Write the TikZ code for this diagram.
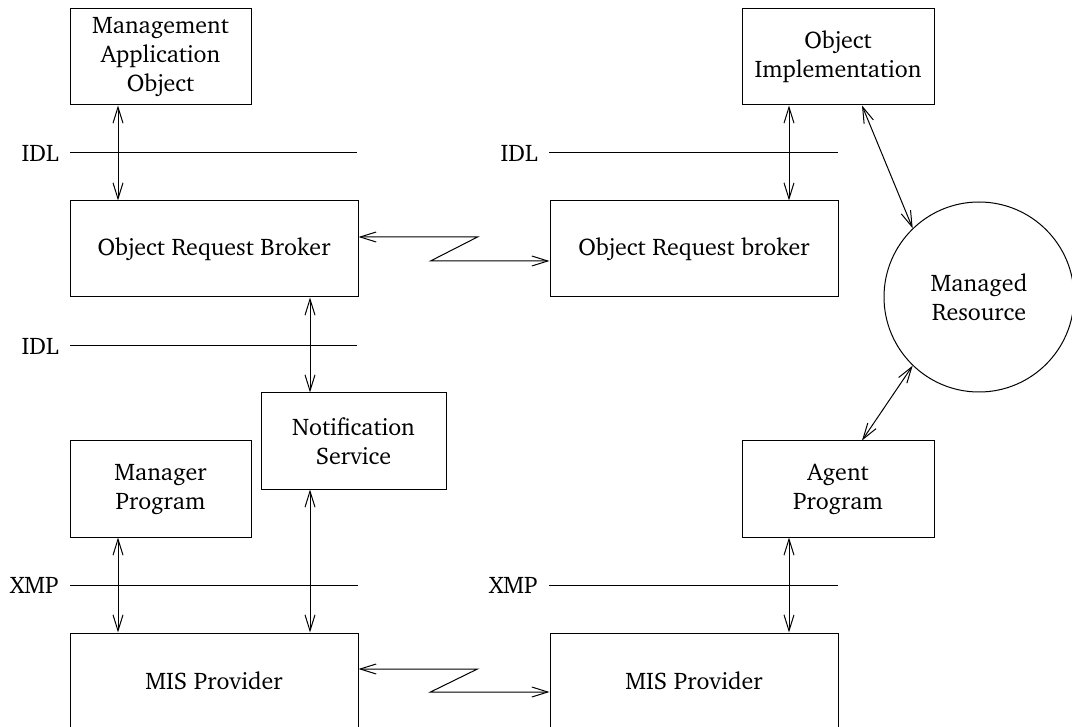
\documentclass[tikz,border=0pt]{standalone}
\usepackage[T1]{fontenc}
\usepackage{charter}
\usetikzlibrary{arrows.meta}
\tikzset{
  box/.style={shape=rectangle,draw,line width=0.5pt,align=center,minimum height=48pt,
              font=\fontsize{12}{14.5}\selectfont},
  iface/.style={anchor=east,inner sep=5.5pt,font=\fontsize{12}{14.5}\selectfont},
  link/.style={line width=0.5pt,{Straight Barb[length=8pt,width=5pt]}-{Straight Barb[length=8pt,width=5pt]}},
}
\begin{document}
\begin{tikzpicture}[x=0.5pt,y=-0.5pt]
\useasboundingbox (0,0) rectangle (1072,727);
\node(mao) at (160.5,57)[box,minimum width=90.5pt]   {Management\\Application\\Object};
\node(oi) at (838,57)[box,minimum width=96pt]        {Object\\Implementation};
\node(orb1) at (214,249)[box,minimum width=144pt]    {Object Request Broker};
\node(orb2) at (694,249)[box,minimum width=144pt]    {Object Request broker};
\node(mr) at (979,297)[shape=circle,draw,line width=0.5pt,minimum size=95pt,align=center,
                       font=\fontsize{12}{14.5}\selectfont] {Managed\\Resource};
\node(ns) at (353.5,441)[box,minimum width=92.5pt]   {Notification\\Service};
\node(mp) at (160.5,489)[box,minimum width=90.5pt]   {Manager\\Program};
\node(ap) at (838,489)[box,minimum width=96pt]       {Agent\\Program};
\node(mis1) at (214,681)[box,minimum width=144pt]    {MIS Provider};
\node(mis2) at (694,681)[box,minimum width=144pt]    {MIS Provider};

% interface lines
\node(idl1) at (70,153)[iface]  {IDL};
\node(idl2) at (549,153)[iface] {IDL};
\node(idl3) at (70,346)[iface]  {IDL};
\node(xmp1) at (70,585)[iface]  {XMP};
\node(xmp2) at (549,585)[iface] {XMP};
\coordinate(idl1e) at (357,153);
\coordinate(idl2e) at (838,153);
\coordinate(idl3e) at (357,346);
\coordinate(xmp1e) at (358,585);
\coordinate(xmp2e) at (838,585);
\path [line width=0.5pt]
  (idl1.east) edge (idl1e)
  (idl2.east) edge (idl2e)
  (idl3.east) edge (idl3e)
  (xmp1.east) edge (xmp1e)
  (xmp2.east) edge (xmp2e);

% columns of the arrows
\coordinate(xl) at (118,0);
\coordinate(xm) at (310,0);
\coordinate(xr) at (789,0);
\coordinate(xd) at (862,0);
\path [link]
  (xl |- mao.south)   edge   (xl |- orb1.north)
  (xr |- oi.south)    edge   (xr |- orb2.north)
  (xd |- oi.south)    edge   (mr.134)
  (xm |- orb1.south)  edge   (xm |- ns.north)
  (xm |- ns.south)    edge   (xm |- mis1.north)
  (xl |- mp.south)    edge   (xl |- mis1.north)
  (xr |- ap.south)    edge   (xr |- mis2.north)
  (mr.226)            edge   (xd |- ap.north);

\draw [link] ([yshift=6pt]orb1.east) -- ++(119,0) -- ++(-47,24) -- ([yshift=-6pt]orb2.west);
\draw [link] ([yshift=6pt]mis1.east) -- ++(119,0) -- ++(-47,23) -- ([yshift=-5.5pt]mis2.west);

\end{tikzpicture}
\end{document}
